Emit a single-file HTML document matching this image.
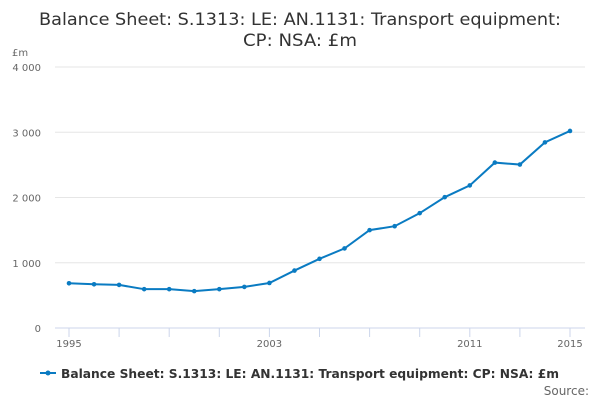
<!DOCTYPE html>
<html><head><meta charset="utf-8"><style>
body{margin:0;background:#fff;font-family:"DejaVu Sans","Liberation Sans",sans-serif;}
svg text{font-family:"DejaVu Sans","Liberation Sans",sans-serif;}
</style></head><body>
<svg width="600" height="400" xmlns="http://www.w3.org/2000/svg">
<text x="300" y="25" text-anchor="middle" font-size="17" fill="#333" textLength="522" lengthAdjust="spacingAndGlyphs">Balance Sheet: S.1313: LE: AN.1131: Transport equipment:</text>
<text x="300" y="46" text-anchor="middle" font-size="17" fill="#333" textLength="114" lengthAdjust="spacingAndGlyphs">CP: NSA: £m</text>
<text x="12" y="56" font-size="10" fill="#666">£m</text>
<g id="grid"></g><g id="xticks"></g><g id="series"></g>
<g>
<line x1="40" y1="373" x2="56" y2="373" stroke="#0a7bc2" stroke-width="2"/>
<circle cx="48" cy="373" r="2.5" fill="#0a7bc2"/>
<text x="61" y="378" font-size="12" font-weight="bold" fill="#333" textLength="498" lengthAdjust="spacingAndGlyphs">Balance Sheet: S.1313: LE: AN.1131: Transport equipment: CP: NSA: £m</text>
</g>
<text x="589" y="395" text-anchor="end" font-size="12" fill="#666">Source:</text>
</svg>
<script>
const years=[1995,1996,1997,1998,1999,2000,2001,2002,2003,2004,2005,2006,2007,2008,2009,2010,2011,2012,2013,2014,2015];
const values=[685,670,660,595,595,565,595,630,690,880,1060,1220,1500,1560,1760,2005,2185,2535,2505,2845,3020];
const yTicks=[0,1000,2000,3000,4000];
const yTickLabels=["0","1 000","2 000","3 000","4 000"];
const xLabels=[1995,2003,2011,2015];
const NS="http://www.w3.org/2000/svg";
const x=v=>69+(v-1995)*(501/20);
const y=v=>328-v*(261/4000);
function mk(t,a,p){const e=document.createElementNS(NS,t);for(const k in a)e.setAttribute(k,a[k]);p.appendChild(e);return e;}
const grid=document.getElementById('grid');
yTicks.forEach((v,i)=>{
 const l=mk('line',{x1:55,x2:585,y1:y(v),y2:y(v),stroke:v===0?'#ccd6eb':'#e6e6e6','stroke-width':1},grid);
 
 
 const t=mk('text',{x:41,y:y(v)+4,'text-anchor':'end','font-size':10,fill:'#666'},grid);
 t.textContent=yTickLabels[i];
 
 
});
const xt=document.getElementById('xticks');
for(let yr=1995;yr<=2015;yr+=2){
 const l=mk('line',{x1:x(yr),x2:x(yr),y1:328,y2:337,stroke:'#ccd6eb'},xt);
 
 
}
xLabels.forEach(yr=>{
 const t=mk('text',{x:x(yr),y:347,'text-anchor':'middle','font-size':10,fill:'#666'},xt);
 t.textContent=yr;
 
 
});
const s=document.getElementById('series');
const p=mk('polyline',{points:years.map((yr,i)=>x(yr)+','+y(values[i])).join(' '),fill:'none',stroke:'#0a7bc2','stroke-width':2},s);


years.forEach((yr,i)=>{
 const c=mk('circle',{cx:x(yr),cy:y(values[i]),r:2.3,fill:'#0a7bc2'},s);
 
 
});
</script>
</body></html>
